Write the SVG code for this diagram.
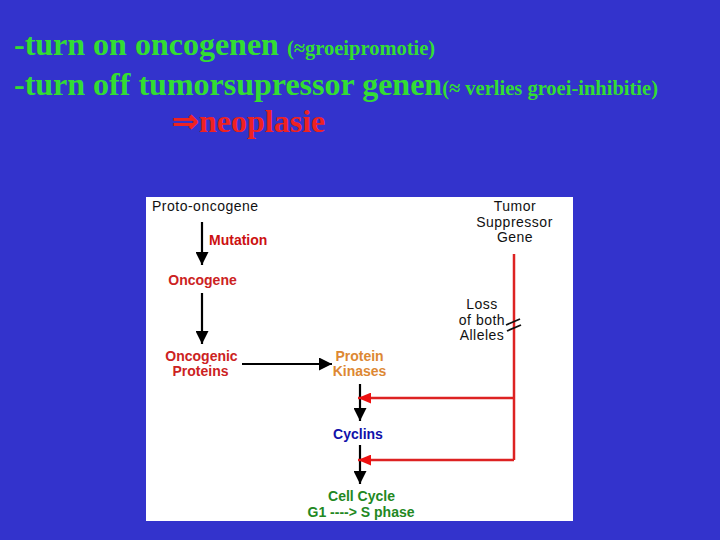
<svg xmlns="http://www.w3.org/2000/svg" width="720" height="540" viewBox="0 0 720 540">
<defs>
<style>
.hd{font-family:"Liberation Serif","Times New Roman",serif;font-weight:bold;fill:#33dd33}
.big{font-size:32px}
.sm{font-size:20.5px}
.lbl{font-family:"Liberation Sans",Arial,sans-serif;font-size:14px;font-weight:bold}
.blk{font-family:"Liberation Sans",Arial,sans-serif;font-size:14px;letter-spacing:0.5px;fill:#111}
.blkline{stroke:#000;stroke-width:2.2;fill:none}
.redline{stroke:#dd2222;stroke-width:2.5;fill:none}
</style>
<marker id="ah" viewBox="0 0 12 12" refX="12" refY="6" markerWidth="13" markerHeight="13" markerUnits="userSpaceOnUse" orient="auto">
<path d="M0,0 L12,6 L0,12 Z" fill="#000"/>
</marker>
<marker id="ahr" viewBox="0 0 12 10" refX="12" refY="5" markerWidth="13" markerHeight="11" markerUnits="userSpaceOnUse" orient="auto">
<path d="M0,0 L12,5 L0,10 Z" fill="#ee1111"/>
</marker>
</defs>
<rect width="720" height="540" fill="#3333cc"/>
<g id="header">
<text class="hd big" x="14" y="55">-turn on oncogenen <tspan class="sm">(≈groeipromotie)</tspan></text>
<text class="hd big" x="14" y="95">-turn off tumorsupressor genen<tspan class="sm">(≈ verlies groei-inhibitie)</tspan></text>
<text class="hd big" x="172" y="132" style="fill:#ee2222">⇒neoplasie</text>
</g>
<rect id="panel" x="146" y="197" width="427" height="324" fill="#ffffff"/>
<g id="connectors">
<line class="blkline" x1="202" y1="222" x2="202" y2="265" marker-end="url(#ah)"/>
<line class="blkline" x1="202" y1="293" x2="202" y2="344" marker-end="url(#ah)"/>
<line class="blkline" x1="242" y1="364" x2="332" y2="364" stroke-width="3" marker-end="url(#ah)"/>
<line class="blkline" x1="360" y1="384" x2="360" y2="421" marker-end="url(#ah)"/>
<line class="blkline" x1="360" y1="445" x2="360" y2="484" marker-end="url(#ah)"/>
<polyline class="redline" points="514,254 514,460"/>
<line class="redline" x1="514" y1="398" x2="358" y2="398" marker-end="url(#ahr)"/>
<line class="redline" x1="514" y1="460" x2="358" y2="460" marker-end="url(#ahr)"/>
<g id="break" stroke="#111" stroke-width="1.8">
<line x1="506" y1="325" x2="520" y2="319"/>
<line x1="507" y1="331" x2="521" y2="325"/>
</g>
</g>
<g id="proto-oncogene"><text class="blk" x="152" y="211">Proto-oncogene</text></g>
<g id="mutation"><text class="lbl" x="209" y="245" fill="#cc1111">Mutation</text></g>
<g id="oncogene"><text class="lbl" x="202.5" y="285" text-anchor="middle" fill="#cc2222">Oncogene</text></g>
<g id="oncogenic-proteins">
<text class="lbl" x="201.5" y="361" text-anchor="middle" fill="#cc2222">Oncogenic</text>
<text class="lbl" x="200.5" y="376" text-anchor="middle" fill="#cc2222">Proteins</text>
</g>
<g id="protein-kinases">
<text class="lbl" x="359.5" y="361" text-anchor="middle" fill="#dd8833">Protein</text>
<text class="lbl" x="359.5" y="376" text-anchor="middle" fill="#dd8833">Kinases</text>
</g>
<g id="cyclins"><text class="lbl" x="358" y="439" text-anchor="middle" fill="#1111aa">Cyclins</text></g>
<g id="cell-cycle">
<text class="lbl" x="361.5" y="501" text-anchor="middle" fill="#228822">Cell Cycle</text>
<text class="lbl" x="361" y="517" text-anchor="middle" fill="#228822">G1 ----&gt; S phase</text>
</g>
<g id="tumor-suppressor">
<text class="blk" x="515" y="211" text-anchor="middle">Tumor</text>
<text class="blk" x="514.5" y="227" text-anchor="middle">Suppressor</text>
<text class="blk" x="515" y="242" text-anchor="middle">Gene</text>
</g>
<g id="loss">
<text class="blk" x="482" y="309" text-anchor="middle">Loss</text>
<text class="blk" x="482" y="325" text-anchor="middle">of both</text>
<text class="blk" x="482" y="340" text-anchor="middle">Alleles</text>
</g>
</svg>
